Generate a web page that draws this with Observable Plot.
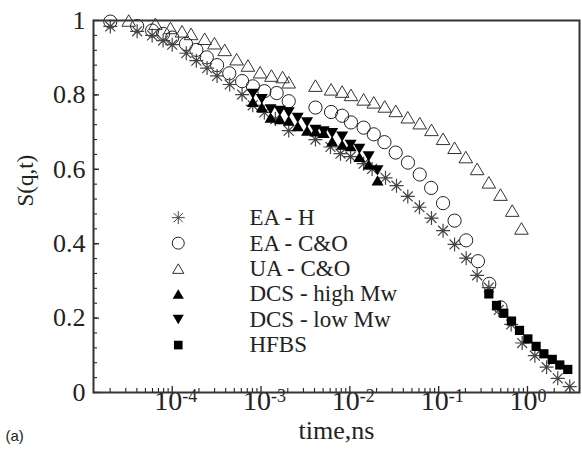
<!DOCTYPE html>
<html>
<head>
<meta charset="utf-8">
<script src="https://cdn.jsdelivr.net/npm/d3@7"></script>
<script src="https://cdn.jsdelivr.net/npm/@observablehq/plot@0.6"></script>
<style>
  html, body { margin: 0; padding: 0; background: #fff; }
</style>
</head>
<body>
<div id="chart"></div>
<script>
// ---- data: [time (ns), S(q,t)] ----
const eaH = [[2.01e-5,0.984],[4.03e-5,0.971],[5.94e-5,0.960],[7.9e-5,0.946],[1.0e-4,0.935],[1.44e-4,0.912],[1.87e-4,0.892],[2.47e-4,0.872],[3.2e-4,0.851],[4.44e-4,0.828],[6.12e-4,0.801],[8.07e-4,0.772],[1.09e-3,0.753],[1.45e-3,0.735],[2.05e-3,0.704],[4.1e-3,0.680],[6.05e-3,0.660],[7.84e-3,0.642],[1.02e-2,0.634],[1.43e-2,0.615],[1.78e-2,0.601],[2.52e-2,0.577],[3.35e-2,0.556],[4.49e-2,0.527],[6.08e-2,0.498],[8.3e-2,0.469],[0.112,0.435],[0.151,0.398],[0.204,0.361],[0.271,0.315],[0.367,0.282],[0.475,0.222],[0.655,0.183],[0.871,0.133],[1.21,0.099],[1.64,0.068],[2.19,0.038],[2.99,0.016]];
const eaCO = [[2.01e-5,0.997],[4.03e-5,0.985],[5.94e-5,0.973],[7.9e-5,0.964],[1.0e-4,0.954],[1.43e-4,0.937],[1.87e-4,0.921],[2.45e-4,0.901],[3.2e-4,0.880],[4.39e-4,0.858],[6.12e-4,0.837],[8.1e-4,0.823],[1.09e-3,0.810],[1.5e-3,0.805],[2.05e-3,0.783],[4.1e-3,0.766],[6.15e-3,0.754],[8.19e-3,0.744],[1.03e-2,0.726],[1.43e-2,0.712],[1.86e-2,0.694],[2.45e-2,0.673],[3.28e-2,0.645],[4.51e-2,0.618],[6.12e-2,0.586],[8.23e-2,0.550],[0.112,0.509],[0.151,0.462],[0.204,0.409],[0.277,0.353],[0.371,0.292],[0.497,0.229]];
const uaCO = [[3.24e-5,1.0],[6.47e-5,0.991],[9.55e-5,0.980],[1.29e-4,0.971],[1.63e-4,0.964],[2.32e-4,0.951],[2.99e-4,0.939],[3.9e-4,0.921],[5.31e-4,0.896],[7.12e-4,0.879],[9.77e-4,0.861],[1.31e-3,0.852],[1.75e-3,0.848],[2.05e-3,0.834],[4.1e-3,0.825],[6.15e-3,0.815],[8.19e-3,0.809],[1.03e-2,0.800],[1.43e-2,0.788],[1.86e-2,0.780],[2.47e-2,0.769],[3.29e-2,0.757],[4.49e-2,0.740],[6.12e-2,0.724],[8.3e-2,0.706],[0.112,0.682],[0.151,0.658],[0.202,0.633],[0.271,0.601],[0.367,0.565],[0.497,0.532],[0.673,0.489],[0.855,0.441]];
const dcsHigh = [[8.1e-4,0.781],[1.02e-3,0.767],[1.28e-3,0.739],[1.63e-3,0.735],[2.05e-3,0.731],[2.59e-3,0.716],[3.3e-3,0.704],[4.1e-3,0.702],[5.08e-3,0.698],[6.32e-3,0.675],[8.19e-3,0.666],[1.02e-2,0.662],[1.28e-2,0.633],[1.63e-2,0.613],[2.05e-2,0.570]];
const dcsLow = [[8.1e-4,0.803],[1.02e-3,0.789],[1.28e-3,0.761],[1.63e-3,0.757],[2.05e-3,0.753],[2.59e-3,0.738],[3.3e-3,0.726],[4.1e-3,0.706],[5.08e-3,0.702],[6.32e-3,0.697],[8.19e-3,0.688],[1.02e-2,0.666],[1.28e-2,0.655],[1.63e-2,0.635],[2.05e-2,0.597]];
const hfbs = [[0.367,0.265],[0.448,0.234],[0.541,0.213],[0.660,0.192],[0.813,0.167],[1.01,0.144],[1.25,0.124],[1.53,0.104],[1.90,0.089],[2.31,0.074],[2.84,0.062]];

const legendLabels = ["EA - H", "EA - C&O", "UA - C&O", "DCS - high Mw", "DCS - low Mw", "HFBS"];
const xMajor = [1e-4, 1e-3, 1e-2, 1e-1, 1];
const xExponents = ["-4", "-3", "-2", "-1", "0"];
const yMajor = [0, 0.2, 0.4, 0.6, 0.8, 1];

// minor tick positions
const xMinor = [];
for (let e = -5; e <= 0; e++) for (let m = 2; m <= 9; m++) { const v = m * Math.pow(10, e); if (v > 1.3e-5 && v < 3.85) xMinor.push(v); }
const yMinor = d3.range(0, 1.0001, 0.04).map(v => +v.toFixed(2));

// ---- custom symbols (size = pi r^2) ----
const rOf = s => Math.sqrt(s / Math.PI);
const asterisk8 = {draw(c, s) { const r = rOf(s), d = r * Math.SQRT1_2;
  c.moveTo(0, -r); c.lineTo(0, r); c.moveTo(-r, 0); c.lineTo(r, 0);
  c.moveTo(-d, -d); c.lineTo(d, d); c.moveTo(-d, d); c.lineTo(d, -d); }};
const triUp = {draw(c, s) { const r = rOf(s);
  c.moveTo(0, -0.85 * r); c.lineTo(r, 0.85 * r); c.lineTo(-r, 0.85 * r); c.closePath(); }};
const triDown = {draw(c, s) { const r = rOf(s);
  c.moveTo(0, 0.85 * r); c.lineTo(r, -0.85 * r); c.lineTo(-r, -0.85 * r); c.closePath(); }};
const sq = {draw(c, s) { const r = rOf(s) * 0.72; c.rect(-r, -r, 2 * r, 2 * r); }};

const legendSymbols = [asterisk8, "circle", triUp, triUp, triDown, sq];
const legendFill = ["none", "none", "none", "#000", "#000", "#000"];
const legendStroke = ["#444", "#222", "#333", "none", "none", "none"];
const legendR = [6.5, 6, 5.6, 5.6, 5.6, 6];
const legendIdx = d3.range(legendLabels.length);
const legendY = i => 0.47 - i * 0.0685;
const legendSymX = 1.17e-4, legendTextX = 7.4e-4;

const X = d => d[0], Y = d => d[1];
const SERIF = "Liberation Serif";

const chart = Plot.plot({
  width: 582,
  height: 452,
  marginLeft: 93,
  marginRight: 3,
  marginTop: 20,
  marginBottom: 60,
  x: {type: "log", domain: [1.3e-5, 3.85]},
  y: {domain: [0, 1]},
  r: {type: "identity"},
  style: {background: "#fff", color: "#222"},
  marks: [
    // axes ticks (inward)
    Plot.axisX({anchor: "bottom", ticks: xMajor, tickSize: -6, tickFormat: () => "", label: null, strokeWidth: 1.3}),
    Plot.axisX({anchor: "bottom", ticks: xMinor, tickSize: -4, tickFormat: () => "", label: null, strokeWidth: 1.1}),
    Plot.axisY({anchor: "left", ticks: yMajor, tickSize: -6, tickFormat: () => "", label: null, strokeWidth: 1.3}),
    Plot.axisY({anchor: "left", ticks: yMinor, tickSize: -4, tickFormat: () => "", label: null, strokeWidth: 1.1}),
    // tick labels
    Plot.text(xMajor, {x: d => d, frameAnchor: "bottom", text: () => "10", textAnchor: "end", dx: 10, dy: 17, fontSize: 28, fontFamily: SERIF, fill: "#222"}),
    Plot.text(xMajor, {x: d => d, frameAnchor: "bottom", text: (d, i) => xExponents[i], textAnchor: "start", dx: 10, dy: 9, fontSize: 18, fontFamily: SERIF, fill: "#222"}),
    Plot.text(yMajor, {y: d => d, frameAnchor: "left", text: d => String(d), textAnchor: "end", dx: -8, fontSize: 26, fontFamily: SERIF, fill: "#222"}),
    // axis titles
    Plot.text(["S(q,t)"], {frameAnchor: "left", dx: -68, rotate: -90, fontSize: 23, fontFamily: SERIF, fill: "#222"}),
    Plot.text(["time,ns"], {frameAnchor: "bottom", dy: 46, fontSize: 26, fontFamily: SERIF, fill: "#222"}),
    Plot.text(["(a)"], {frameAnchor: "bottom-left", dx: -88, dy: 48, textAnchor: "start", fontSize: 15, fontFamily: "Liberation Sans", fill: "#222"}),
    // data
    Plot.dot(uaCO, {x: X, y: Y, symbol: triUp, r: 6.8, stroke: "#333", strokeWidth: 1, fill: "none"}),
    Plot.dot(eaCO, {x: X, y: Y, symbol: "circle", r: 6.6, stroke: "#222", strokeWidth: 1, fill: "none"}),
    Plot.dot(eaH, {x: X, y: Y, symbol: asterisk8, r: 7, stroke: "#444", strokeWidth: 1.2, fill: "none"}),
    Plot.dot(dcsHigh, {x: X, y: Y, symbol: triUp, r: 6, fill: "#000", stroke: "none"}),
    Plot.dot(dcsLow, {x: X, y: Y, symbol: triDown, r: 6, fill: "#000", stroke: "none"}),
    Plot.dot(hfbs, {x: X, y: Y, symbol: sq, r: 6.4, fill: "#000", stroke: "none"}),
    // legend
    Plot.dot(legendIdx, {x: () => legendSymX, y: i => legendY(i), symbol: i => legendSymbols[i], r: i => legendR[i], fill: i => legendFill[i], stroke: i => legendStroke[i], strokeWidth: 1}),
    Plot.text(legendIdx, {x: () => legendTextX, y: i => legendY(i), text: i => legendLabels[i], textAnchor: "start", fontSize: 23, fontFamily: SERIF, fill: "#222"}),
    Plot.frame({stroke: "#333", strokeWidth: 2})
  ]
});
document.getElementById("chart").appendChild(chart);
</script>
</body>
</html>
